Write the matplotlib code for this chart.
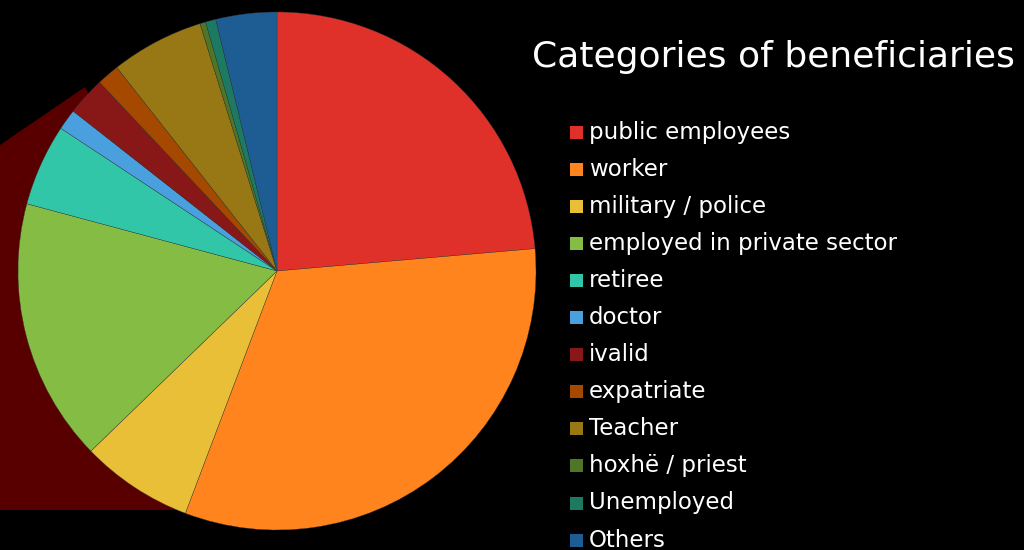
import numpy as np
import matplotlib
matplotlib.use('Agg')
import matplotlib.pyplot as plt
from matplotlib.patches import Polygon, Rectangle

# beneficiary shares (%), clockwise from 12 o'clock
categories = ['public employees', 'worker', 'military / police',
              'employed in private sector', 'retiree', 'doctor', 'ivalid',
              'expatriate', 'Teacher', 'hoxhë / priest', 'Unemployed', 'Others']
shares = [23.6, 32.1, 7.0, 16.4, 5.1, 1.3, 2.4, 1.4, 5.8, 0.36, 0.64, 3.8]
colors = ['#E0302A', '#FF841E', '#E8BF36', '#84BC44', '#31C6A8', '#4A9FDF',
          '#881717', '#A54800', '#987814', '#4F7527', '#1D7A62', '#1E5C94']

W, H = 1024, 550
plt.rcParams['font.family'] = ['DejaVu Sans']

fig = plt.figure(figsize=(W / 100, H / 100), dpi=100, facecolor='black')

# background layer in pixel coordinates
bg = fig.add_axes([0, 0, 1, 1])
bg.set_xlim(0, W)
bg.set_ylim(H, 0)
bg.axis('off')
bg.set_facecolor('black')
bg.add_patch(Polygon([(0, 145), (85, 87), (200, 300), (190, 510), (0, 510)],
                     closed=True, color='#580000', lw=0))

# pie
cx, cy, r = 277, 271, 259
ax = fig.add_axes([(cx - r) / W, (H - cy - r) / H, 2 * r / W, 2 * r / H])
ax.pie(shares, colors=colors, startangle=90, counterclock=False, radius=1,
       wedgeprops=dict(edgecolor='#3a3a3a', linewidth=0.25))
ax.set_xlim(-1, 1)
ax.set_ylim(-1, 1)
ax.set_aspect('equal')
ax.axis('off')

# title and legend
bg.text(773, 57, 'Categories of beneficiaries', color='white', fontsize=26,
        ha='center', va='center')
y0, dy = 132, 37.1
for i, (name, c) in enumerate(zip(categories, colors)):
    y = y0 + i * dy
    bg.add_patch(Rectangle((570, y - 6.5), 13, 13, color=c, lw=0))
    bg.text(589, y, name, color='white', fontsize=16.5, ha='left', va='center')

fig.savefig('out.png', dpi=100, facecolor='black')
